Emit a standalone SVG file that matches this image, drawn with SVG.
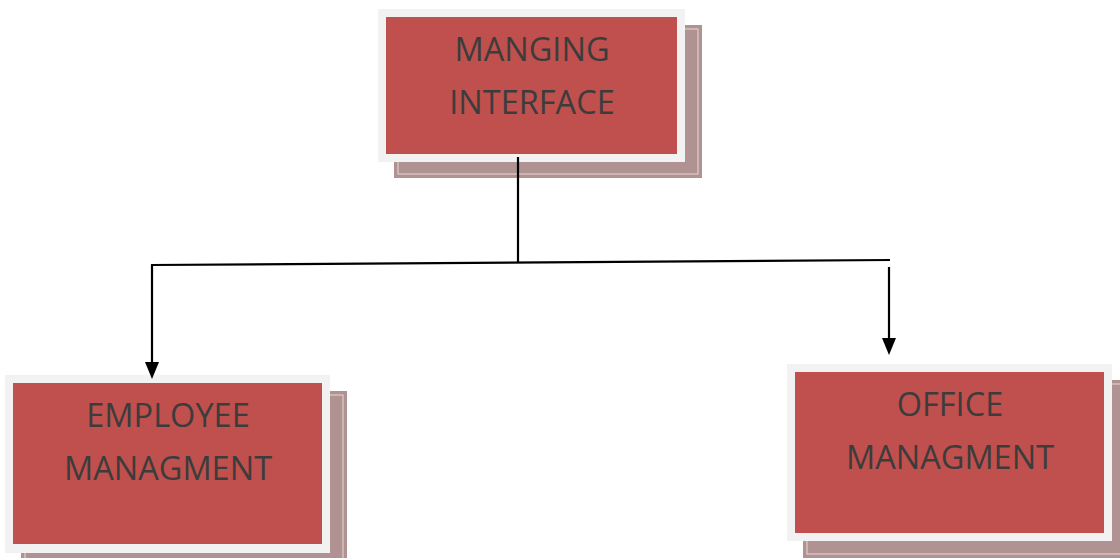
<svg xmlns="http://www.w3.org/2000/svg" width="1120" height="558" viewBox="0 0 1120 558">
<style>
.shadow{fill:#b09292}
.shline{fill:none;stroke:#e6d8d8;stroke-width:1}
.frame{fill:#f2f2f2}
.box{fill:#c0504d}
.lbl{font-family:"Open Sans","Liberation Sans",sans-serif;font-size:32.5px;fill:#3c3c3c;text-anchor:middle}
.conn{stroke:#000;stroke-width:2.2;fill:none}
.head{fill:#000}
</style>
<rect width="1120" height="558" fill="#fff"/>
<g id="node-managing-interface">
<rect class="shadow" x="394" y="25" width="308" height="153"/>
<rect class="shline" x="398" y="29" width="300" height="145"/>
<rect class="frame" x="378" y="9" width="307" height="153"/>
<rect class="box" x="386" y="17" width="291" height="137"/>
<text class="lbl" x="532" y="61">MANGING</text>
<text class="lbl" x="532" y="114">INTERFACE</text>
</g>
<g id="node-employee">
<rect class="shadow" x="21" y="391" width="326" height="170"/>
<rect class="shline" x="25" y="395" width="318" height="170"/>
<rect class="frame" x="5" y="375" width="325" height="178"/>
<rect class="box" x="13" y="383" width="309" height="161"/>
<text class="lbl" x="168" y="427">EMPLOYEE</text>
<text class="lbl" x="168" y="480">MANAGMENT</text>
</g>
<g id="node-office">
<rect class="shadow" x="803" y="380" width="320" height="178"/>
<rect class="shline" x="807" y="384" width="320" height="170"/>
<rect class="frame" x="787" y="364" width="325" height="177"/>
<rect class="box" x="795" y="372" width="309" height="161"/>
<text class="lbl" x="950" y="416">OFFICE</text>
<text class="lbl" x="950" y="469">MANAGMENT</text>
</g>
<g id="connectors">
<line class="conn" x1="518" y1="157" x2="518" y2="262" stroke-width="1.6"/>
<line class="conn" x1="151" y1="265" x2="890" y2="260"/>
<line class="conn" x1="152" y1="265" x2="152" y2="366"/>
<polygon class="head" points="145,362 159,362 152,379"/>
<line class="conn" x1="889" y1="267" x2="889" y2="342"/>
<polygon class="head" points="882,338 896,338 889,355"/>
</g>
</svg>
